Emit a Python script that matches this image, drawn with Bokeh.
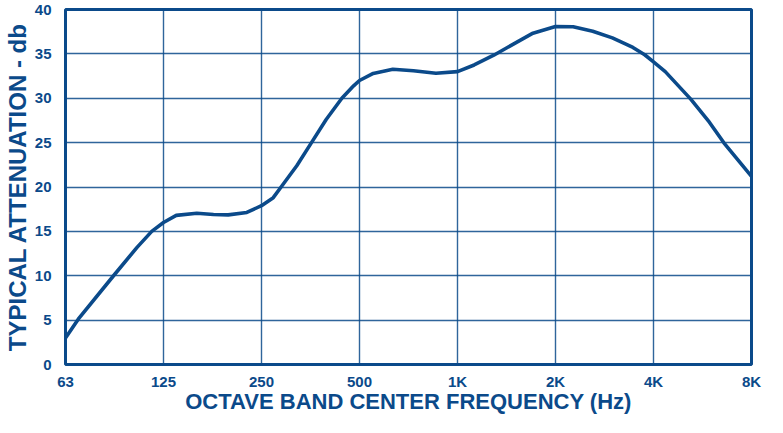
from bokeh.plotting import figure
from bokeh.models import FixedTicker, Range1d
from bokeh.embed import file_html
from bokeh.resources import INLINE

# Octave band tick labels (positions are octave indices 0..7)
tick_labels = ["63", "125", "250", "500", "1K", "2K", "4K", "8K"]
tick_pos = [0, 1, 2, 3, 4, 5, 6, 7]
y_ticks = [0, 5, 10, 15, 20, 25, 30, 35, 40]

# Curve (x in octaves above 63 Hz, y in dB)
curve_x = [0.00, 0.13, 0.49, 0.73, 0.88, 1.00, 1.13, 1.34, 1.51, 1.66, 1.85,
           2.00, 2.12, 2.20, 2.36, 2.51, 2.66, 2.82, 2.94, 3.00, 3.14, 3.34,
           3.55, 3.78, 4.00, 4.17, 4.37, 4.57, 4.77, 5.00, 5.18, 5.38, 5.58,
           5.79, 5.91, 6.00, 6.12, 6.38, 6.57, 6.72, 6.88, 7.00]
curve_y = [3.0, 5.1, 10.0, 13.2, 15.0, 16.0, 16.8, 17.05, 16.9, 16.86, 17.13,
           17.9, 18.8, 20.0, 22.4, 25.0, 27.6, 30.0, 31.4, 32.0, 32.8, 33.27,
           33.1, 32.82, 33.0, 33.75, 34.85, 36.1, 37.33, 38.08, 38.05, 37.55,
           36.8, 35.72, 34.9, 34.1, 33.0, 29.9, 27.3, 24.95, 22.8, 21.2]

x_title = "OCTAVE BAND CENTER FREQUENCY (Hz)"
y_title = "TYPICAL ATTENUATION - db"

NAVY = "#0b4a8a"
FONT = "Liberation Sans"

p = figure(width=767, height=417, output_backend="svg", toolbar_location=None,
           x_range=Range1d(0, 7), y_range=Range1d(0, 40),
           min_border_left=64, min_border_right=16, min_border_top=9,
           min_border_bottom=53)

p.line(curve_x, curve_y, line_color=NAVY, line_width=3.6, line_join="round")

p.xaxis.ticker = FixedTicker(ticks=tick_pos)
p.xaxis.major_label_overrides = {i: s for i, s in zip(tick_pos, tick_labels)}
p.yaxis.ticker = FixedTicker(ticks=y_ticks)
p.xgrid.ticker = FixedTicker(ticks=tick_pos)
p.ygrid.ticker = FixedTicker(ticks=y_ticks)

for g in (p.xgrid, p.ygrid):
    g.grid_line_color = NAVY
    g.grid_line_width = 1.4
    g.grid_line_alpha = 0.85

for ax in (p.xaxis, p.yaxis):
    ax.axis_line_color = None
    ax.major_tick_line_color = None
    ax.minor_tick_line_color = None
    ax.major_tick_out = 0
    ax.major_tick_in = 0
    ax.minor_tick_out = 0
    ax.minor_tick_in = 0
    ax.major_label_text_color = NAVY
    ax.major_label_text_font = FONT
    ax.major_label_text_font_style = "bold"
    ax.major_label_text_font_size = "15px"
    ax.axis_label_text_color = NAVY
    ax.axis_label_text_font = FONT
    ax.axis_label_text_font_style = "bold"

p.xaxis.axis_label_text_font_size = "22px"
p.yaxis.axis_label_text_font_size = "24px"
p.xaxis.major_label_standoff = 8
p.yaxis.major_label_standoff = 14
p.xaxis.axis_label = x_title
p.yaxis.axis_label = y_title
p.xaxis.axis_label_standoff = -4
p.yaxis.axis_label_standoff = 1

p.outline_line_color = NAVY
p.outline_line_width = 3
p.background_fill_color = "white"
p.border_fill_color = "white"

open("out.html", "w").write(file_html(p, INLINE))
